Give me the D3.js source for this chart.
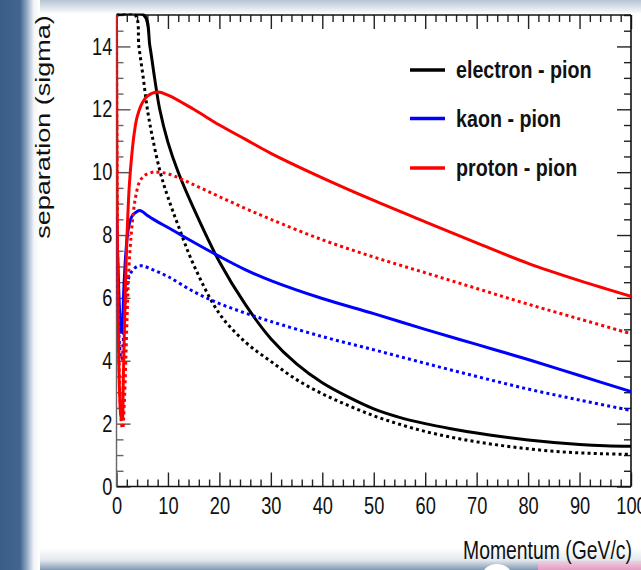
<!DOCTYPE html>
<html>
<head>
<meta charset="utf-8">
<script src="https://cdn.jsdelivr.net/npm/d3@7/dist/d3.min.js"></script>
<style>
  html, body { margin: 0; padding: 0; background: #fff; }
  svg { display: block; }
  text { font-family: "Liberation Sans", Arial, Helvetica, sans-serif; fill: #111; }
</style>
</head>
<body>
<svg id="chart" width="641" height="570"></svg>
<script>
// Separation power (in sigma) versus momentum for three particle pairs.
// Solid and dotted lines are the two detector configurations.

const electronPionSolidP = [0, 5.3, 6.5, 7.4, 8.4, 10, 12, 15, 20, 25, 30, 35, 40, 45, 50, 55, 60, 65, 70, 75, 80, 85, 90, 95, 100];
const electronPionSolidV = [15, 15, 14, 13, 12, 10.95, 10.0, 8.85, 7.15, 5.8, 4.7, 3.9, 3.3, 2.85, 2.47, 2.2, 2.0, 1.84, 1.7, 1.58, 1.48, 1.4, 1.34, 1.3, 1.28];

const electronPionDotP = [0, 3.6, 4.35, 5.2, 6, 7, 8.5, 10, 12, 15, 20, 25, 30, 35, 40, 45, 50, 55, 60, 65, 70, 75, 80, 85, 90, 95, 100];
const electronPionDotV = [15, 15, 14, 13, 12, 11.1, 10.0, 9.2, 8.3, 7.05, 5.5, 4.6, 3.98, 3.4, 2.95, 2.58, 2.25, 1.98, 1.75, 1.57, 1.42, 1.3, 1.2, 1.12, 1.07, 1.04, 1.02];

const kaonPionSolidP = [0, 0.3, 0.6, 0.9, 1.1, 1.4, 1.8, 2.3, 3, 4, 4.5, 5, 6, 8, 10, 15, 20, 25, 30, 40, 50, 60, 70, 80, 90, 100];
const kaonPionSolidV = [8.6, 7.0, 5.6, 4.9, 5.0, 6.2, 7.4, 8.2, 8.6, 8.75, 8.78, 8.75, 8.62, 8.42, 8.24, 7.77, 7.32, 6.9, 6.55, 5.98, 5.5, 5.0, 4.52, 4.04, 3.53, 3.02];

const kaonPionDotP = [0, 0.3, 0.6, 0.9, 1.1, 1.4, 1.8, 2.3, 3, 4, 5, 7, 10, 15, 20, 25, 30, 40, 50, 60, 70, 80, 90, 100];
const kaonPionDotV = [7.0, 5.6, 4.5, 4.05, 4.1, 5.0, 6.0, 6.6, 6.85, 7.0, 7.02, 6.9, 6.68, 6.2, 5.82, 5.52, 5.25, 4.77, 4.35, 3.92, 3.5, 3.1, 2.75, 2.42];

const protonPionSolidP = [0, 0.1, 0.3, 0.6, 0.9, 1.1, 1.3, 1.6, 2.0, 2.5, 3, 3.5, 4, 5, 6, 8, 10, 15, 20, 25, 30, 40, 50, 60, 70, 80, 90, 100];
const protonPionSolidV = [15, 9.5, 5.5, 3.0, 2.2, 2.15, 3.2, 5.5, 7.8, 9.6, 10.6, 11.3, 11.75, 12.2, 12.42, 12.55, 12.45, 12.0, 11.5, 11.05, 10.6, 9.82, 9.1, 8.42, 7.75, 7.1, 6.55, 6.05];

const protonPionDotP = [0, 0.15, 0.4, 0.7, 1.0, 1.2, 1.5, 1.8, 2.1, 2.4, 2.8, 3.2, 3.7, 4.5, 5.5, 7, 8, 10, 15, 20, 25, 30, 40, 50, 60, 70, 80, 90, 100];
const protonPionDotV = [15, 9, 5, 2.8, 1.95, 1.85, 2.6, 4.0, 5.6, 6.9, 7.9, 8.6, 9.2, 9.7, 9.9, 10.0, 10.0, 9.95, 9.6, 9.22, 8.85, 8.5, 7.85, 7.3, 6.8, 6.3, 5.8, 5.33, 4.86];

const legendLabels = ["electron - pion", "kaon - pion", "proton - pion"];
const legendColors = ["#000000", "#0000ff", "#ff0000"];
const xTicks = [0, 10, 20, 30, 40, 50, 60, 70, 80, 90, 100];
const yTicks = [0, 2, 4, 6, 8, 10, 12, 14];
const xTitle = "Momentum (GeV/c)";
const yTitle = "separation (sigma)";

const series = [
  { p: electronPionSolidP, v: electronPionSolidV, color: legendColors[0], dotted: false },
  { p: electronPionDotP,   v: electronPionDotV,   color: legendColors[0], dotted: true },
  { p: kaonPionSolidP,     v: kaonPionSolidV,     color: legendColors[1], dotted: false },
  { p: kaonPionDotP,       v: kaonPionDotV,       color: legendColors[1], dotted: true },
  { p: protonPionSolidP,   v: protonPionSolidV,   color: legendColors[2], dotted: false },
  { p: protonPionDotP,     v: protonPionDotV,     color: legendColors[2], dotted: true }
];

const svg = d3.select("#chart");
const W = 641, H = 570;
const frameL = 116.5, frameR = 631, frameT = 15, frameB = 486.5;

const x = d3.scaleLinear().domain([0, 100]).range([frameL, frameR]);
const y = d3.scaleLinear().domain([0, 15]).range([frameB, frameT]);

// ---- slide-style backdrop ----
const defs = svg.append("defs");
const gL = defs.append("linearGradient").attr("id", "bandLeft")
  .attr("gradientUnits", "userSpaceOnUse").attr("x1", 0).attr("x2", 40).attr("y1", 0).attr("y2", 0);
gL.append("stop").attr("offset", 0).attr("stop-color", "#395d88");
gL.append("stop").attr("offset", 0.5).attr("stop-color", "#42668f");
gL.append("stop").attr("offset", 0.66).attr("stop-color", "#8ca4c0");
gL.append("stop").attr("offset", 0.85).attr("stop-color", "#f3f6f9");
gL.append("stop").attr("offset", 1).attr("stop-color", "#ffffff");

const gT = defs.append("linearGradient").attr("id", "bandTop")
  .attr("gradientUnits", "userSpaceOnUse").attr("x1", 0).attr("x2", 0).attr("y1", 0).attr("y2", 14);
gT.append("stop").attr("offset", 0).attr("stop-color", "#b7c4d3");
gT.append("stop").attr("offset", 0.5).attr("stop-color", "#d9e1ea");
gT.append("stop").attr("offset", 1).attr("stop-color", "#ffffff");

const gB = defs.append("linearGradient").attr("id", "bandBottom")
  .attr("gradientUnits", "userSpaceOnUse").attr("x1", 0).attr("x2", 0).attr("y1", 548).attr("y2", 570);
gB.append("stop").attr("offset", 0).attr("stop-color", "#ffffff");
gB.append("stop").attr("offset", 0.55).attr("stop-color", "#e3e8ee");
gB.append("stop").attr("offset", 1).attr("stop-color", "#8299b3");

const gP = defs.append("linearGradient").attr("id", "pinkTab")
  .attr("gradientUnits", "userSpaceOnUse").attr("x1", 0).attr("x2", 0).attr("y1", 560).attr("y2", 570);
gP.append("stop").attr("offset", 0).attr("stop-color", "#f3d3e4");
gP.append("stop").attr("offset", 1).attr("stop-color", "#e29cc3");

svg.append("rect").attr("width", W).attr("height", H).attr("fill", "#ffffff");
svg.append("rect").attr("x", 0).attr("y", 0).attr("width", W).attr("height", 14).attr("fill", "url(#bandTop)");
svg.append("rect").attr("x", 0).attr("y", 548).attr("width", W).attr("height", 22).attr("fill", "url(#bandBottom)");
svg.append("rect").attr("x", 538).attr("y", 561).attr("width", W - 538).attr("height", 9).attr("fill", "url(#pinkTab)");
svg.append("ellipse").attr("cx", 497).attr("cy", 574).attr("rx", 14).attr("ry", 10).attr("fill", "#ffffff");
svg.append("rect").attr("x", 0).attr("y", 0).attr("width", 40).attr("height", H).attr("fill", "url(#bandLeft)");

// ---- axes (ticks point inward) ----
const tickFont = 24, tickSX = 0.76;
const xMinorVals = d3.range(0, 101, 2).filter(v => v % 10 !== 0);
const yMinorVals = d3.range(0, 15.01, 0.5).filter(v => v % 2 !== 0);

const xMajor = d3.axisBottom(x).tickValues(xTicks).tickSizeInner(-14).tickSizeOuter(0).tickPadding(10.5)
  .tickFormat(d3.format("d"));
const xMinor = d3.axisBottom(x).tickValues(xMinorVals).tickSizeInner(-7).tickSizeOuter(0).tickFormat("");
const xTopMajor = d3.axisTop(x).tickValues(xTicks).tickSizeInner(-14).tickSizeOuter(0).tickFormat("");
const xTopMinor = d3.axisTop(x).tickValues(xMinorVals).tickSizeInner(-7).tickSizeOuter(0).tickFormat("");

const yMajor = d3.axisLeft(y).tickValues(yTicks).tickSizeInner(-14).tickSizeOuter(0).tickPadding(5.5)
  .tickFormat(d3.format("d"));
const yMinor = d3.axisLeft(y).tickValues(yMinorVals).tickSizeInner(-7).tickSizeOuter(0).tickFormat("");
const yRightMajor = d3.axisRight(y).tickValues(yTicks).tickSizeInner(-14).tickSizeOuter(0).tickFormat("");
const yRightMinor = d3.axisRight(y).tickValues(yMinorVals).tickSizeInner(-7).tickSizeOuter(0).tickFormat("");

function styleAxis(g, color) {
  g.select(".domain").remove();
  g.selectAll(".tick line").attr("stroke", color).attr("stroke-width", 1.4);
  g.selectAll(".tick text")
    .attr("font-size", tickFont)
    .attr("fill", "#111")
    .attr("font-family", '"Liberation Sans", Arial, Helvetica, sans-serif')
    .attr("transform", `scale(${tickSX},1)`);
}

svg.append("g").attr("transform", `translate(0,${frameB})`).call(xMajor).call(g => styleAxis(g, "#222"));
svg.append("g").attr("transform", `translate(0,${frameB})`).call(xMinor).call(g => styleAxis(g, "#222"));
svg.append("g").attr("transform", `translate(0,${frameT})`).call(xTopMajor).call(g => styleAxis(g, "#222"));
svg.append("g").attr("transform", `translate(0,${frameT})`).call(xTopMinor).call(g => styleAxis(g, "#222"));
svg.append("g").attr("transform", `translate(${frameL},0)`).call(yMajor).call(g => styleAxis(g, "#555"));
svg.append("g").attr("transform", `translate(${frameL},0)`).call(yMinor).call(g => styleAxis(g, "#666"));
svg.append("g").attr("transform", `translate(${frameR},0)`).call(yRightMajor).call(g => styleAxis(g, "#222"));
svg.append("g").attr("transform", `translate(${frameR},0)`).call(yRightMinor).call(g => styleAxis(g, "#222"));

// frame
svg.append("line").attr("x1", frameL).attr("x2", frameR).attr("y1", frameB).attr("y2", frameB)
  .attr("stroke", "#111").attr("stroke-width", 1.6);
svg.append("line").attr("x1", frameL).attr("x2", frameR).attr("y1", frameT).attr("y2", frameT)
  .attr("stroke", "#111").attr("stroke-width", 1.6);
svg.append("line").attr("x1", frameR).attr("x2", frameR).attr("y1", frameT).attr("y2", frameB)
  .attr("stroke", "#111").attr("stroke-width", 1.6);
svg.append("line").attr("x1", frameL).attr("x2", frameL).attr("y1", frameT).attr("y2", frameB)
  .attr("stroke", "#666").attr("stroke-width", 1.4);

// ---- curves ----
defs.append("clipPath").attr("id", "plotClip")
  .append("rect").attr("x", frameL).attr("y", frameT - 1.5).attr("width", frameR - frameL).attr("height", frameB - frameT + 1.5);

const line = d3.line()
  .x(d => x(d[0]))
  .y(d => y(d[1]))
  .curve(d3.curveCatmullRom.alpha(0.5));

const curves = svg.append("g").attr("clip-path", "url(#plotClip)");
series.forEach(s => {
  const pts = s.p.map((p, i) => [p, s.v[i]]);
  curves.append("path")
    .attr("d", line(pts))
    .attr("fill", "none")
    .attr("stroke", s.color)
    .attr("stroke-width", 3)
    .attr("stroke-dasharray", s.dotted ? "3,3.2" : null)
    .attr("stroke-linejoin", "round");
});

// ---- axis titles ----
svg.append("text")
  .attr("transform", `translate(632,559) scale(0.775,1)`)
  .attr("text-anchor", "end")
  .attr("font-size", 25)
  .text(xTitle);

svg.append("text")
  .attr("transform", `translate(50,127) scale(0.78,1) rotate(-90)`)
  .attr("text-anchor", "middle")
  .attr("font-size", 27)
  .text(yTitle);

// ---- legend ----
const legend = svg.append("g");
const legendY = [70, 118.5, 168];
legendLabels.forEach((lab, i) => {
  legend.append("line")
    .attr("x1", 410).attr("x2", 445)
    .attr("y1", legendY[i]).attr("y2", legendY[i])
    .attr("stroke", legendColors[i]).attr("stroke-width", 3.5);
  legend.append("text")
    .attr("transform", `translate(456,${legendY[i] + 8}) scale(0.82,1)`)
    .attr("font-size", 24)
    .attr("font-weight", "bold")
    .text(lab);
});
</script>
</body>
</html>
